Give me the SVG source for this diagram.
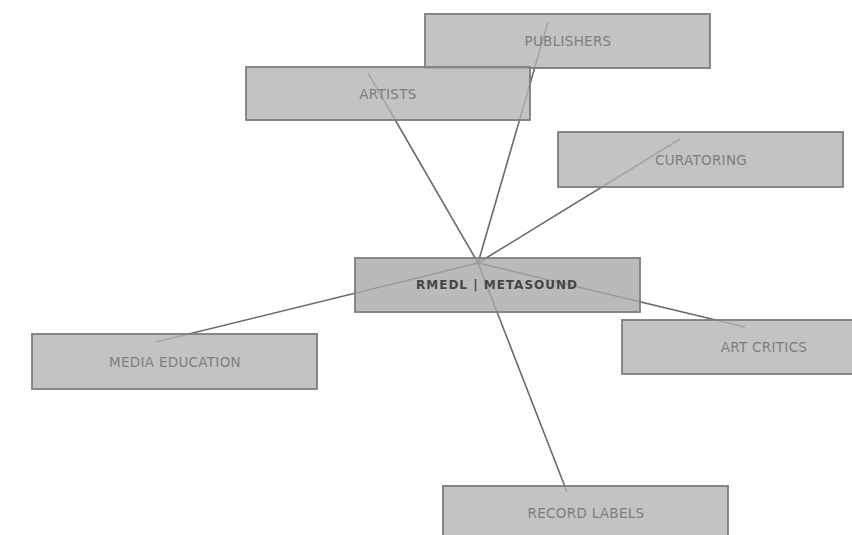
<svg xmlns="http://www.w3.org/2000/svg" width="852" height="535" viewBox="0 0 852 535">
<style>
.edge{stroke:#6a6a6a;stroke-width:1.6;fill:none}
.box{fill:#b4b4b4;fill-opacity:0.8;stroke:#7e7e7e;stroke-width:1.8}
.hubbox{fill:#a9a9a9;fill-opacity:0.8;stroke:#7e7e7e;stroke-width:1.8}
.lbl{font-family:"DejaVu Sans",Verdana,sans-serif;font-size:13.5px;fill:#7e7e7e;text-anchor:middle;dominant-baseline:central;letter-spacing:0.3px}
.hub{font-family:"DejaVu Sans",Verdana,sans-serif;font-size:12px;font-weight:bold;fill:#454545;text-anchor:middle;dominant-baseline:central;letter-spacing:1px}
</style>
<rect width="852" height="535" fill="#ffffff"/>
<g id="connectors">
<line class="edge" x1="478" y1="263" x2="548" y2="22"/>
<line class="edge" x1="478" y1="263" x2="368" y2="73"/>
<line class="edge" x1="478" y1="263" x2="680" y2="139"/>
<line class="edge" x1="478" y1="263" x2="156" y2="342"/>
<line class="edge" x1="478" y1="263" x2="745" y2="327"/>
<line class="edge" x1="478" y1="263" x2="567" y2="492"/>
</g>
<g id="publishers">
<rect class="box" x="425" y="14" width="285" height="54"/>
<text class="lbl" x="568" y="41">PUBLISHERS</text>
</g>
<g id="artists">
<rect class="box" x="246" y="67" width="284" height="53"/>
<text class="lbl" x="388" y="94">ARTISTS</text>
</g>
<g id="curatoring">
<rect class="box" x="558" y="132" width="285" height="55"/>
<text class="lbl" x="701" y="160">CURATORING</text>
</g>
<g id="rmedl">
<rect class="hubbox" x="355" y="258" width="285" height="54"/>
<text class="hub" x="497" y="285">RMEDL | METASOUND</text>
</g>
<g id="media-education">
<rect class="box" x="32" y="334" width="285" height="55"/>
<text class="lbl" x="175" y="362">MEDIA EDUCATION</text>
</g>
<g id="art-critics">
<rect class="box" x="622" y="320" width="285" height="54"/>
<text class="lbl" x="764" y="347">ART CRITICS</text>
</g>
<g id="record-labels">
<rect class="box" x="443" y="486" width="285" height="54"/>
<text class="lbl" x="586" y="513">RECORD LABELS</text>
</g>
</svg>
